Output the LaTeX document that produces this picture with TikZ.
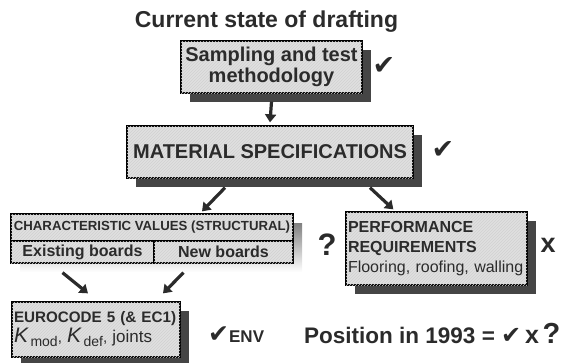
\documentclass[tikz,border=0pt]{standalone}
\usepackage{fontspec}
\setmainfont{Liberation Sans}
\newfontfamily\symfont{DejaVu Sans}
\usetikzlibrary{arrows.meta,patterns,calc}
\definecolor{ink}{HTML}{2B2B2B}
\definecolor{boxfill}{HTML}{E0E0E0}
\definecolor{shade}{HTML}{454545}
\newcommand{\fs}[2]{\fontsize{#1}{#2}\selectfont}
\begin{document}
\begin{tikzpicture}[x=1pt,y=-1pt,
  panel/.style={draw=black, line width=1.3pt, fill=boxfill,
    postaction={pattern=north east lines, pattern color=black!18},
    inner sep=0pt, text=ink},
  shad/.style={preaction={fill=shade, draw=none, transform canvas={shift={(9pt,-9pt)}}}},
  conn/.style={draw=ink, line width=3.2pt, -{Triangle[width=11pt,length=8pt]}},
  lbl/.style={text=ink, inner sep=0pt},
  tick/.style={text=ink, inner sep=0pt, font=\symfont\fs{27}{27}},
]
\useasboundingbox (0,0) rectangle (564,362);

% title
\node[lbl, anchor=base, font=\fs{23}{23}\bfseries] (title) at (266.5,27) {Current state of drafting};

% box 1
\node[panel, shad, minimum width=181pt, minimum height=52pt, align=center,
  font=\fs{20}{21}\bfseries] (b1) at (271.5,67) {Sampling and test\\methodology};
\node[tick] (m1) at (384,66) {✔};

% box 2
\node[panel, shad, minimum width=286pt, minimum height=52pt,
  font=\fs{20}{20}\bfseries] (b2) at (270,152) {MATERIAL SPECIFICATIONS};
\node[tick] (m2) at (443,150) {✔};

% box 3 (composite)
\fill[shade] (20,223) rectangle (302,272);
\node[panel, minimum width=282pt, minimum height=27pt,
  font=\fs{13.2}{13.2}\bfseries] (char) at (152,227.5) {CHARACTERISTIC VALUES (STRUCTURAL)};
\node[panel, minimum width=143pt, minimum height=22pt,
  font=\fs{16}{16}\bfseries] (exist) at (82.5,252) {Existing boards};
\node[panel, minimum width=139pt, minimum height=22pt,
  font=\fs{16}{16}\bfseries] (new) at (223.5,252) {New boards};
\node[lbl, font=\fs{31}{31}\bfseries] (q1) at (327,245) {?};

% box 4
\node[panel, shad, text width=177pt, inner xsep=2pt, minimum height=73pt, align=left,
  font=\fs{16}{20}] (b4) at (436.5,248.5)
  {\textbf{PERFORMANCE}\\\textbf{REQUIREMENTS}\\Flooring, roofing, walling};
\node[lbl, font=\fs{27}{27}\bfseries] (x1) at (548,245) {x};

% box 5
\node[panel, shad, text width=164pt, inner xsep=2pt, minimum height=55pt, align=left,
  font=\fs{15.2}{20}] (b5) at (96,329.5)
  {\textbf{EUROCODE 5 (\& EC1)}\\{\fs{21}{20}\itshape K}\,\raisebox{-4pt}{\fs{14}{14}mod}, {\fs{21}{20}\itshape K}\,\raisebox{-4pt}{\fs{14}{14}def}, {\fs{17}{20}joints}};
\node[lbl, anchor=west, font=\fs{17}{17}\bfseries] (env) at (208,335) {{\symfont\fs{25}{25}✔}ENV};

% position line
\node[lbl, anchor=west, font=\fs{22.5}{23}\bfseries] (pos) at (304,333)
  {Position in 1993 = {\symfont\fs{24}{24}✔}\,{\fs{25}{25}x}\,{\fs{29}{29}?}};

% connectors
\draw[conn] ([yshift=-8pt]b1.south) -- ([yshift=3pt]b2.north);
\draw[conn] ($(b2.south)+(-45,9)$) -- ($(char.north)+(50,-2)$);
\draw[conn] ($(b2.south)+(100,9)$) -- ($(b4.north west)+(48,-2)$);
\draw[conn] ($(exist.south)+(-20,9)$) -- ($(b5.north)+(-8,-8)$);
\draw[conn] ($(new.south)+(-40,9)$) -- ($(b5.north)+(67,-8)$);
\end{tikzpicture}
\end{document}
